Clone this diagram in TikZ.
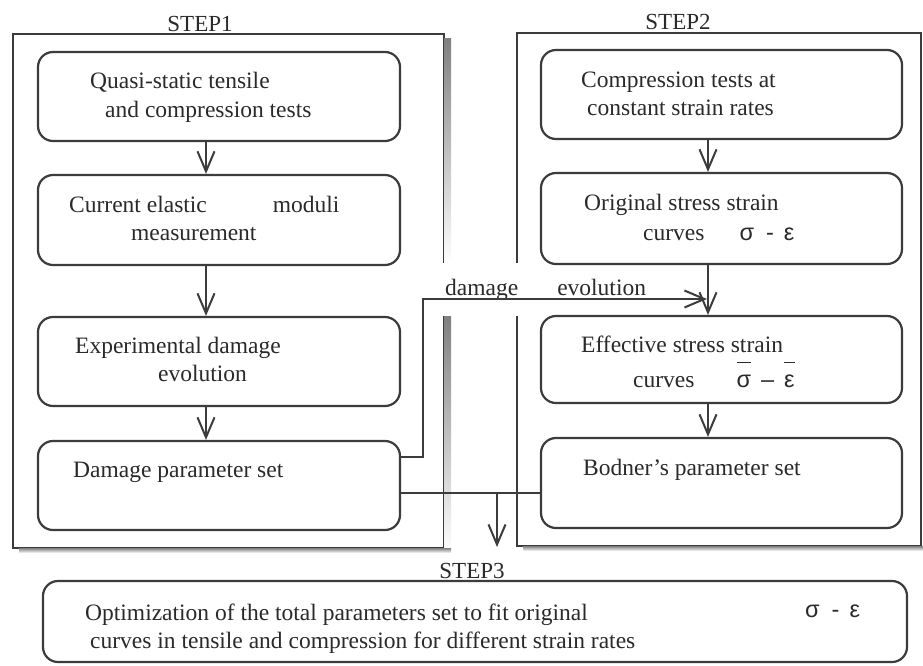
\documentclass[tikz,border=0pt]{standalone}
\usepackage{fontspec}
\setmainfont{Liberation Serif}
\newfontfamily\gk{Liberation Sans}
\usetikzlibrary{arrows.meta}
\newcommand\barred[1]{\setbox0\hbox{#1}\rlap{\raisebox{24pt}{\rule{\wd0}{1.5pt}}}\box0}
\definecolor{ink}{HTML}{2A2A2A}
\definecolor{linec}{HTML}{3C3C3C}
\definecolor{shade}{HTML}{555555}
\begin{document}
\begin{tikzpicture}[x=1pt,y=-1pt,
  box/.style={draw=linec, line width=2.2pt, rounded corners=15pt, inner sep=0pt},
  txt/.style={anchor=base west, inner sep=0pt, text=ink, font=\fontsize{23.5}{28}\selectfont},
  steplabel/.style={anchor=base, inner sep=0pt, text=ink, font=\fontsize{23}{28}\selectfont},
  conn/.style={draw=linec, line width=2pt},
  arr/.style={conn, -{Straight Barb[length=20pt,width=17pt,line width=2pt]}},
  frame/.style={draw=linec, line width=2pt},
]
\useasboundingbox (0,0) rectangle (923,665);
\fill[white] (0,0) rectangle (923,665);

% frames
\draw[frame] (444,263) -- (444,34) -- (13,34) -- (13,548) -- (444,548) -- (444,316);
\fill[shade] (444,38) rectangle (451,263);
\fill[shade] (444,316) rectangle (451,553);
\fill[shade] (19,548) rectangle (451,553);
\draw[frame] (517,263) -- (517,33) -- (921,33) -- (921,546) -- (517,546) -- (517,316);
\fill[shade] (523,546) rectangle (923,551);

\node[steplabel] (s1) at (200,31) {STEP1};
\node[steplabel] (s2) at (678,29) {STEP2};
\node[steplabel] (s3) at (472,578) {STEP3};

% STEP1 boxes
\node[box, minimum width=362pt, minimum height=89pt] (a1) at (219,96.5) {};
\node[box, minimum width=362pt, minimum height=90pt] (a2) at (219,220) {};
\node[box, minimum width=362pt, minimum height=89pt] (a3) at (219,361.5) {};
\node[box, minimum width=362pt, minimum height=89pt] (a4) at (219,485.5) {};
% STEP2 boxes
\node[box, minimum width=361pt, minimum height=89pt] (c1) at (721.5,94.5) {};
\node[box, minimum width=361pt, minimum height=91pt] (c2) at (721.5,218.5) {};
\node[box, minimum width=361pt, minimum height=87pt] (c3) at (721.5,359.5) {};
\node[box, minimum width=361pt, minimum height=90pt] (c4) at (721.5,483) {};
% STEP3 box
\node[box, minimum width=864pt, minimum height=81pt] (d1) at (475,621.5) {};

% texts STEP1
\node[txt] (t11) at (90,88) {Quasi-static tensile};
\node[txt] (t12) at (105,117) {and compression tests};
\node[txt] (t21) at (69,212) {Current elastic\hspace{66pt}moduli};
\node[txt] (t22) at (131,240) {measurement};
\node[txt] (t31) at (75,353) {Experimental damage};
\node[txt] (t32) at (158,381) {evolution};
\node[txt] (t41) at (73,477) {Damage parameter set};
% texts STEP2
\node[txt] (u11) at (581,87) {Compression tests at};
\node[txt] (u12) at (587,115) {constant strain rates};
\node[txt] (u21) at (584,210) {Original stress strain};
\node[txt] (u22) at (643,240) {curves\hspace{35pt}{\gk σ\hspace{12pt}-\hspace{10pt}ε}};
\node[txt] (u31) at (581,352) {Effective stress strain};
\node[txt] (u32) at (633,387) {curves\hspace{42pt}{\gk \barred{σ}\hspace{10pt}–\hspace{10pt}\barred{ε}}};
\node[txt] (u41) at (583,475) {Bodner’s parameter set};
% STEP3 texts
\node[txt] (v1) at (85,620) {Optimization of the total parameters set to fit original};
\node[txt] (v2) at (90,648) {curves in tensile and compression for different strain rates};
\node[txt] (v3) at (805,617) {\gk σ\hspace{12pt}-\hspace{10pt}ε};
% connector label
\node[txt] (lab) at (445,295) {damage\hspace{39pt}evolution};

% arrows
\draw[arr] ([xshift=-13pt]a1.south) -- ([xshift=-13pt]a2.north);
\draw[arr] ([xshift=-13pt]a2.south) -- ([xshift=-13pt]a3.north);
\draw[arr] ([xshift=-13pt]a3.south) -- ([xshift=-13pt]a4.north);
\draw[arr] ([xshift=-13.5pt]c1.south) -- ([xshift=-13.5pt]c2.north);
\draw[arr] ([xshift=-13.5pt]c2.south) -- ([xshift=-13.5pt]c3.north);
\draw[arr] ([xshift=-13.5pt]c3.south) -- ([xshift=-13.5pt]c4.north);

\coordinate (k) at (707,299);
\draw[arr] (a4.east |- 0,457) -| (423,299) -- (k);

\coordinate (j) at (497,493);
\coordinate (jend) at (497,547);
\draw[conn] (a4.east |- j) -- (c4.west |- j);
\draw[arr] (j) -- (jend);
\end{tikzpicture}
\end{document}
